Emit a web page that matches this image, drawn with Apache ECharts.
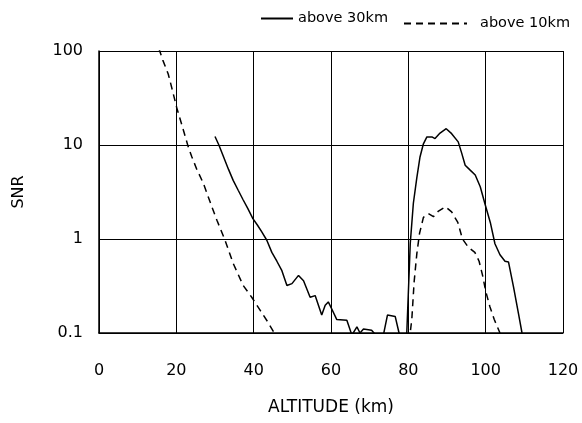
<!DOCTYPE html>
<html>
<head>
<meta charset="utf-8">
<script src="https://cdn.jsdelivr.net/npm/echarts@6/dist/echarts.min.js"></script>
<style>html,body{margin:0;padding:0;background:#fff}#c{width:582px;height:423px}</style>
</head>
<body>
<div id="c"></div>
<script>
var seriesNames = ['above 30km', 'above 10km'];
var xTicks = [0, 20, 40, 60, 80, 100, 120];
var yTicks = [0.1, 1, 10, 100];

// above 30km (solid): [altitude km, SNR]
var above30km = [
  [30,12.3],[31,10],[32.2,7.5],[33.5,5.5],[34.7,4.2],[36,3.3],[37.3,2.6],[38.5,2.1],[39.8,1.65],[41,1.4],
  [42.1,1.19],[43.4,0.97],[44.7,0.72],[46,0.58],[47.3,0.46],[48.6,0.32],[49.9,0.335],[51.6,0.41],[52.9,0.36],
  [54.6,0.24],[55.9,0.25],[57.6,0.155],[58.5,0.197],[59.3,0.214],[60.2,0.18],[61.5,0.139],[64.1,0.137],
  [65.4,0.095],[66.7,0.116],[67.5,0.1],[68.4,0.11],[70.5,0.107],[71.8,0.093],[73.5,0.093],[74.6,0.155],
  [76.6,0.15],[77.6,0.1],[78.3,0.09],[79.6,0.1],[80.5,0.9],[81.3,2.4],[82.2,4.5],[83.0,7.4],[83.9,10.3],
  [84.8,12.2],[86.1,12.2],[86.9,11.7],[88.2,13.4],[89.8,14.9],[91.2,13.2],[92.9,10.8],[93.8,8.2],[94.7,6.1],
  [96.0,5.4],[97.3,4.8],[98.6,3.6],[99.9,2.3],[101.2,1.5],[102.4,0.89],[103.7,0.68],[105.0,0.58],[105.9,0.57],
  [107.2,0.31],[108.5,0.16],[109.4,0.1],[109.8,0.085]
];

// above 10km (dashed): [altitude km, SNR]
var above10km = [
  [15.5,106],[16.5,80],[17.9,57],[19,38],[20.1,25],[21.5,16],[23.1,9.5],[24,7.5],[25.3,5.5],[27,3.9],
  [28.7,2.5],[30.5,1.58],[32.6,0.97],[34.7,0.55],[37.3,0.32],[39.5,0.24],[41.7,0.174],[43.6,0.132],[46,0.09],
  [63,'-'],
  [80.2,0.08],[80.9,0.14],[81.5,0.35],[82.2,0.7],[82.9,1.15],[83.9,1.7],[85.2,1.86],[86.5,1.73],[87.8,1.98],
  [89.6,2.2],[91.2,1.94],[92.8,1.5],[94.0,1.0],[95.5,0.82],[97.2,0.72],[98.3,0.58],[99.2,0.41],[100.0,0.28],
  [101.1,0.19],[102.2,0.14],[103.7,0.1],[104.5,0.085]
];

var FONT = 'DejaVu Sans';
var chart = echarts.init(document.getElementById('c'), null, {renderer: 'canvas'});
chart.setOption({
  animation: false,
  backgroundColor: '#fff',
  textStyle: {fontFamily: FONT, color: '#000'},
  legend: [
    {data: [seriesNames[0]], left: 255, top: 6, itemWidth: 32, itemHeight: 14,
     itemStyle: {opacity: 0},
     textStyle: {fontFamily: FONT, fontSize: 14.5, color: '#000'}},
    {data: [seriesNames[1]], left: 398, top: 11, itemWidth: 63, itemHeight: 14,
     itemStyle: {opacity: 0},
     textStyle: {fontFamily: FONT, fontSize: 14.5, color: '#000', padding: [0,0,0,8]}}
  ],
  grid: {left: 99, right: 19, top: 51, bottom: 90, containLabel: false},
  xAxis: {
    type: 'value', min: xTicks[0], max: xTicks[xTicks.length-1], interval: 20,
    name: 'ALTITUDE (km)', nameLocation: 'middle', nameGap: 66,
    nameTextStyle: {fontFamily: FONT, fontSize: 17, color: '#000'},
    axisLine: {show: true, lineStyle: {color: '#000', width: 1.5}},
    axisTick: {show: false},
    axisLabel: {fontFamily: FONT, fontSize: 16, color: '#000', margin: 30},
    splitLine: {show: true, lineStyle: {color: '#000', width: 1}}
  },
  yAxis: {
    type: 'log', logBase: 10, min: yTicks[0], max: yTicks[yTicks.length-1],
    name: 'SNR', nameLocation: 'middle', nameGap: 72,
    nameTextStyle: {fontFamily: FONT, fontSize: 16, color: '#000'},
    axisLine: {show: true, lineStyle: {color: '#000', width: 1.5}},
    axisTick: {show: false},
    axisLabel: {fontFamily: FONT, fontSize: 16, color: '#000', margin: 16,
      formatter: function (v) { return String(Math.round(v * 10) / 10); }},
    splitLine: {show: true, lineStyle: {color: '#000', width: 1}}
  },
  series: [
    {name: seriesNames[0], type: 'line', data: above30km, symbol: 'none', clip: true,
     lineStyle: {color: '#000', width: 1.5, type: 'solid'}, itemStyle: {color: '#000'}},
    {name: seriesNames[1], type: 'line', data: above10km, symbol: 'none', clip: true,
     lineStyle: {color: '#000', width: 1.5, type: [7, 5]}, itemStyle: {color: '#000'}}
  ]
});
</script>
</body>
</html>
